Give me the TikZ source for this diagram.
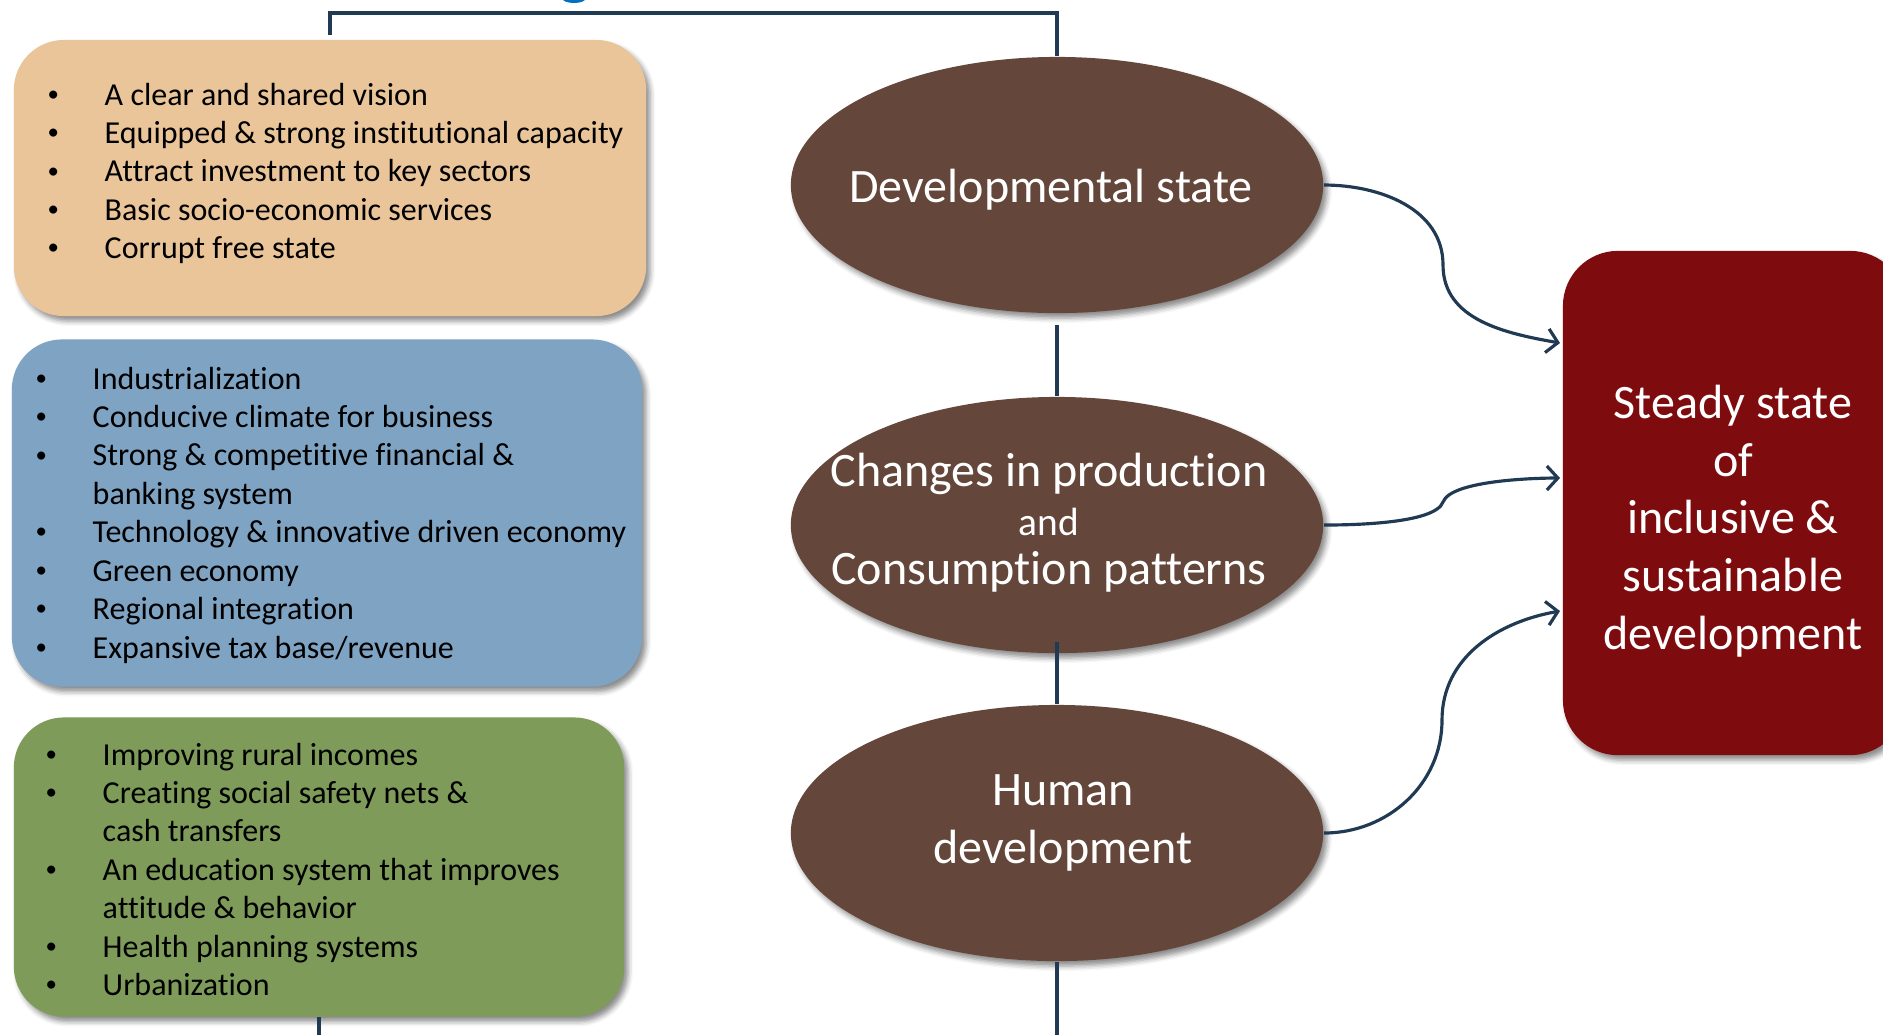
\documentclass[tikz,border=0pt]{standalone}
\usepackage{fontspec}
\setmainfont{Carlito}[RawFeature={-liga;-clig;-calt;-dlig}]
\usetikzlibrary{shapes.geometric,arrows.meta,shadows.blur}

\definecolor{boxorange}{RGB}{234,197,153}
\definecolor{boxblue}{RGB}{127,163,195}
\definecolor{boxgreen}{RGB}{126,155,89}
\definecolor{ovalbrown}{RGB}{100,71,58}
\definecolor{goalred}{RGB}{126,12,14}
\definecolor{linknavy}{RGB}{31,58,82}
\definecolor{titleblue}{RGB}{0,112,192}

% small list bullet
\newcommand{\dotitem}{\raisebox{0.12em}{\fontsize{6.5}{6.5}\selectfont\textbullet}}

\tikzset{
  softshadow/.style={blur shadow={shadow xshift=0.04cm, shadow yshift=-0.05cm,
      shadow blur radius=0.05cm, shadow opacity=45}},
  listbox/.style={rectangle, rounded corners=0.5cm, softshadow, inner sep=0pt},
  listtext/.style={anchor=base west, inner sep=0pt, font=\fontsize{9.1}{10.93}\selectfont},
  oval/.style={ellipse, fill=ovalbrown, softshadow, minimum width=5.32cm,
      minimum height=2.56cm, inner sep=0pt},
  ovaltext/.style={text=white, align=center, inner sep=0pt,
      font=\fontsize{13.66}{16.4}\selectfont},
  link/.style={draw=linknavy, line width=0.9pt},
  arrowlink/.style={link, -{Straight Barb[length=0.11cm, width=0.24cm, line width=0.9pt]}}
}

\begin{document}
\begin{tikzpicture}[x=0.01cm, y=-0.01cm]
  \useasboundingbox (0,0) rectangle (1883,1035);

  % piece of the heading above
  \fill[titleblue] (574,-2) ellipse (12 and 5);

  % the three lists on the left
  \node[listbox, fill=boxorange, minimum width=6.32cm, minimum height=2.76cm] (state) at (330,178) {};
  \node[listbox, fill=boxblue, minimum width=6.30cm, minimum height=3.47cm] (economy) at (327,513) {};
  \node[listbox, fill=boxgreen, minimum width=6.10cm, minimum height=2.99cm] (social) at (319,867) {};

  \node[listtext] (statelist) at (47,105) {\begin{tabular}[t]{@{}p{0.57cm}@{}l@{}}
    \dotitem & A clear and shared vision\\
    \dotitem & Equipped \& strong institutional capacity\\
    \dotitem & Attract investment to key sectors\\
    \dotitem & Basic socio-economic services\\
    \dotitem & Corrupt free state
  \end{tabular}};
  \node[listtext] (economylist) at (35,389) {\begin{tabular}[t]{@{}p{0.57cm}@{}l@{}}
    \dotitem & Industrialization\\
    \dotitem & Conducive climate for business\\
    \dotitem & Strong \& competitive financial \&\\
             & banking system\\
    \dotitem & Technology \& innovative driven economy\\
    \dotitem & Green economy\\
    \dotitem & Regional integration\\
    \dotitem & Expansive tax base/revenue
  \end{tabular}};
  \node[listtext] (sociallist) at (45,765) {\begin{tabular}[t]{@{}p{0.57cm}@{}l@{}}
    \dotitem & Improving rural incomes\\
    \dotitem & Creating social safety nets \&\\
             & cash transfers\\
    \dotitem & An education system that improves\\
             & attitude \& behavior\\
    \dotitem & Health planning systems\\
    \dotitem & Urbanization
  \end{tabular}};

  % middle column
  \node[oval] (devstate) at (1057,185) {};
  \node[oval] (prodcons) at (1057,525) {};
  \node[oval] (humandev) at (1057,833) {};

  \node[ovaltext] (devstatetxt) at (1051,190) {Developmental state};
  \node[ovaltext, font=\fontsize{13.66}{13.94}\selectfont] (prodconstxt) at (1049,523)
    {Changes in production\\{\fontsize{11.2}{13.94}\selectfont and}\\Consumption patterns};
  \node[ovaltext] (humandevtxt) at (1063,823) {Human\\development};

  % goal box, running off the right edge
  \node[rectangle, rounded corners=0.55cm, fill=goalred, softshadow,
        minimum width=3.42cm, minimum height=5.04cm] (steady) at (1734,503) {};
  \node[ovaltext] (steadytxt) at (1733,521)
    {Steady state\\of\\inclusive \&\\sustainable\\development};

  % frame lines
  \coordinate (stateend) at (330,35);
  \coordinate (topbar) at (1057,13);
  \coordinate (gapone) at (1057,325);
  \coordinate (gaptwo) at (1057,642);
  \coordinate (bottomend) at (1057,1035);
  \coordinate (socialend) at (319,1035);

  \draw[link, line width=1.1pt] (stateend) |- (topbar) -- (devstate.north);
  \draw[link] (gapone) -- (prodcons.north);
  \draw[link] (gaptwo) -- (humandev.north);
  \draw[link] (humandev.south) -- (bottomend);
  \draw[link] (social.south) -- (socialend);

  % arrows into the goal box
  \draw[arrowlink] (devstate.east) to[out=0, in=90] (1443,265)
    to[out=-90, in=170] (1560,343);
  \draw[arrowlink] (prodcons.east) to[out=0, in=-110, looseness=0.5] (1443,502)
    to[out=70, in=180, looseness=0.5] (1560,478);
  \draw[arrowlink] (humandev.east) to[out=0, in=-90] (1442,720)
    to[out=90, in=190] (1560,611);
\end{tikzpicture}
\end{document}
